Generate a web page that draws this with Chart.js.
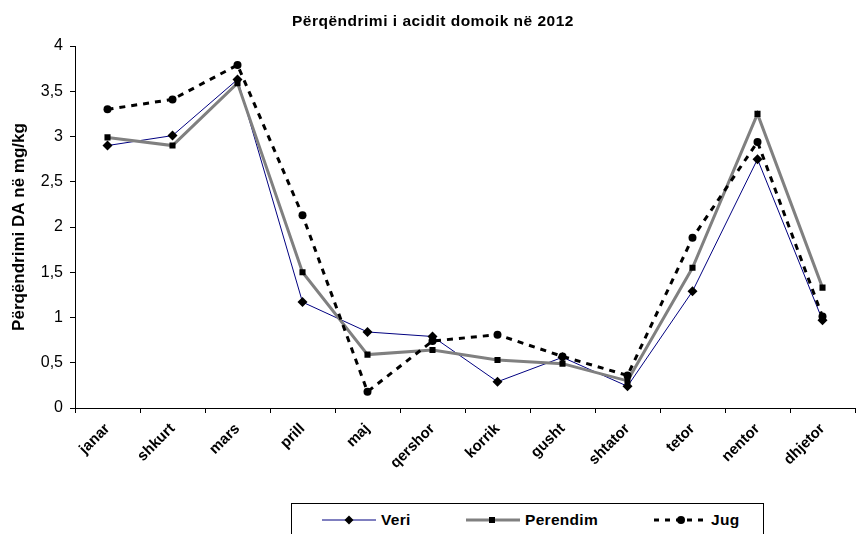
<!DOCTYPE html>
<html>
<head>
<meta charset="utf-8">
<script src="https://cdn.jsdelivr.net/npm/chart.js@4.4.0/dist/chart.umd.min.js"></script>
<style>
    body { margin: 0; background: #fff; }
    #wrap { position: relative; width: 860px; height: 534px; overflow: hidden; font-family: "Liberation Sans", Arial, sans-serif; color: #000; }
    #titulli { position: absolute; left: 0; width: 866px; top: 12px; line-height: 18px; text-align: center; font-weight: bold; font-size: 15.5px; letter-spacing: 0.5px; white-space: nowrap; }
    #legjenda { position: absolute; left: 291px; top: 503px; width: 471px; height: 40px; border: 1px solid #000; background: #fff; }
    .leg-svg { position: absolute; top: 9px; }
    .leg-txt { position: absolute; top: 7px; line-height: 17px; font-weight: bold; font-size: 15.5px; letter-spacing: 0.3px; white-space: nowrap; }
</style>
</head>
<body>
<div id="wrap">
    <canvas id="grafiku" width="860" height="534"></canvas>
    <div id="titulli">Përqëndrimi i acidit domoik në 2012</div>
    <div id="legjenda">
        <svg class="leg-svg" style="left:29px" width="56" height="14">
            <line x1="1" y1="7" x2="55" y2="7" stroke="#000080" stroke-width="1"/>
            <polygon points="28,2.5 32.5,7 28,11.5 23.5,7" fill="#000"/>
        </svg>
        <span class="leg-txt" style="left:89px">Veri</span>
        <svg class="leg-svg" style="left:173px" width="56" height="14">
            <line x1="1" y1="7" x2="55" y2="7" stroke="#808080" stroke-width="3"/>
            <rect x="24" y="4" width="6" height="6" fill="#000"/>
        </svg>
        <span class="leg-txt" style="left:233px">Perendim</span>
        <svg class="leg-svg" style="left:361px" width="52" height="14">
            <line x1="1" y1="7" x2="51" y2="7" stroke="#000" stroke-width="3" stroke-dasharray="5,6"/>
            <circle cx="28" cy="7" r="4" fill="#000"/>
        </svg>
        <span class="leg-txt" style="left:419px">Jug</span>
    </div>
</div>
<script>
// Muajt e vitit
var muajt = ["janar", "shkurt", "mars", "prill", "maj", "qershor", "korrik", "gusht", "shtator", "tetor", "nentor", "dhjetor"];

// Vlerat e acidit domoik (mg/kg) sipas zones
var veri = [2.90, 3.01, 3.63, 1.17, 0.84, 0.79, 0.29, 0.56, 0.24, 1.29, 2.75, 0.97];
var perendim = [2.99, 2.90, 3.59, 1.50, 0.59, 0.64, 0.53, 0.49, 0.30, 1.55, 3.25, 1.33];
var jug = [3.30, 3.41, 3.79, 2.13, 0.18, 0.74, 0.81, 0.57, 0.36, 1.88, 2.94, 1.01];

// Etiketat e boshtit Y
var yEtiketat = ["0", "0,5", "1", "1,5", "2", "2,5", "3", "3,5", "4"];

Chart.defaults.font.family = "'Liberation Sans', Arial, sans-serif";
Chart.defaults.color = "#000";

var ctx = document.getElementById("grafiku").getContext("2d");
var chart = new Chart(ctx, {
    type: "line",
    data: {
        labels: muajt,
        datasets: [
            {
                label: "Veri",
                data: veri,
                borderColor: "#000080",
                borderWidth: 1,
                pointStyle: "rectRot",
                pointRadius: 5,
                pointBackgroundColor: "#000",
                pointBorderColor: "#000",
                pointBorderWidth: 0,
                order: 3
            },
            {
                label: "Perendim",
                data: perendim,
                borderColor: "#808080",
                borderWidth: 3,
                pointStyle: "rect",
                pointRadius: 4.3,
                pointBackgroundColor: "#000",
                pointBorderColor: "#000",
                pointBorderWidth: 0,
                order: 2
            },
            {
                label: "Jug",
                data: jug,
                borderColor: "#000",
                borderWidth: 3,
                borderDash: [6, 6],
                pointStyle: "circle",
                pointRadius: 4,
                pointBackgroundColor: "#000",
                pointBorderColor: "#000",
                pointBorderWidth: 0,
                order: 1
            }
        ]
    },
    options: {
        responsive: false,
        animation: false,
        layout: { padding: { top: 46, right: 2, bottom: 0, left: 0 } },
        plugins: {
            legend: { display: false },
            title: { display: false },
            tooltip: { enabled: false }
        },
        elements: { line: { tension: 0 } },
        scales: {
            x: {
                offset: true,
                afterFit: function (scale) { scale.height = 126; },
                grid: { offset: true, drawOnChartArea: false, tickLength: 5, color: "#000", tickWidth: 1 },
                border: { color: "#000", width: 1 },
                ticks: { minRotation: 45, maxRotation: 45, padding: 7, font: { size: 15, weight: "bold" } }
            },
            y: {
                min: 0,
                max: 4,
                afterFit: function (scale) { scale.width = 75; },
                grid: { drawOnChartArea: false, tickLength: 5, color: "#000", tickWidth: 1 },
                border: { color: "#000", width: 1 },
                ticks: {
                    stepSize: 0.5,
                    padding: 7,
                    font: { size: 16 },
                    callback: function (v, i) { return yEtiketat[i]; }
                },
                title: {
                    display: true,
                    text: "Përqëndrimi DA në mg/kg",
                    font: { size: 17, weight: "bold" },
                    padding: { top: 9, bottom: 0 }
                }
            }
        }
    }
});
</script>
</body>
</html>
